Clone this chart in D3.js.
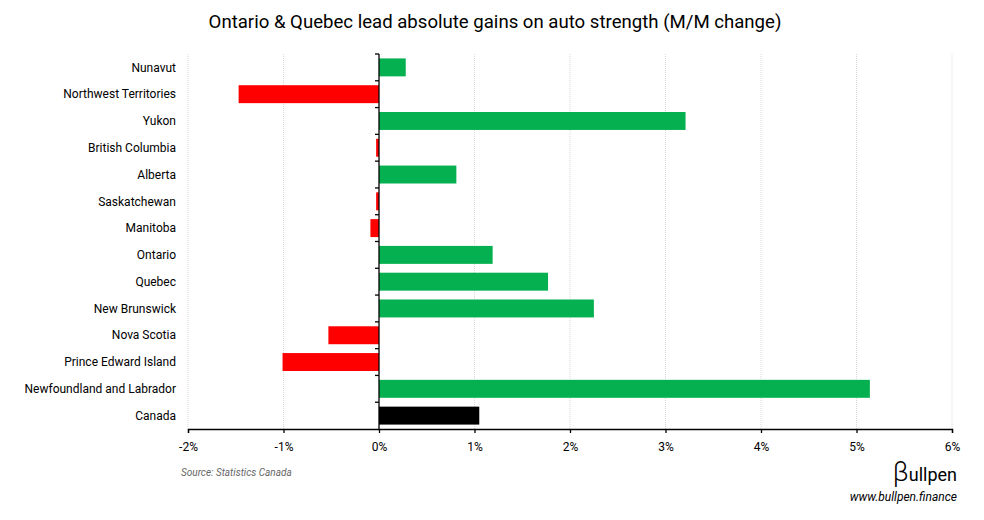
<!DOCTYPE html>
<html>
<head>
<meta charset="utf-8">
<script src="https://cdn.jsdelivr.net/npm/d3@7"></script>
<style>
  body { margin: 0; background: #fff; }
  svg { font-family: Roboto, sans-serif; }
</style>
</head>
<body>
<svg width="984" height="520"></svg>
<script>
const regions = ['Nunavut', 'Northwest Territories', 'Yukon', 'British Columbia', 'Alberta',
    'Saskatchewan', 'Manitoba', 'Ontario', 'Quebec', 'New Brunswick', 'Nova Scotia',
    'Prince Edward Island', 'Newfoundland and Labrador', 'Canada'];
const changes = [0.28, -1.47, 3.21, -0.03, 0.81, -0.03, -0.09, 1.19, 1.77, 2.25, -0.53, -1.01, 5.14, 1.05];
const xTicks = [-2, -1, 0, 1, 2, 3, 4, 5, 6];

const data = regions.map((r, i) => ({ region: r, value: changes[i] }));

const svg = d3.select('svg');
const width = 984;
const margin = { top: 54, right: 32, bottom: 91, left: 188 };
const innerWidth = width - margin.left - margin.right;
const innerHeight = 520 - margin.top - margin.bottom;

const xScale = d3.scaleLinear().domain([-2, 6]).range([0, innerWidth]);
const yScale = d3.scaleBand().domain(regions).range([0, innerHeight]).paddingInner(0.33).paddingOuter(0.165);

const g = svg.append('g').attr('transform', `translate(${margin.left},${margin.top})`);

// dotted gridlines
g.selectAll('.grid').data(xTicks.filter(t => t !== 0)).enter().append('line')
    .attr('x1', d => xScale(d)).attr('x2', d => xScale(d))
    .attr('y1', 0).attr('y2', innerHeight)
    .attr('stroke', '#d9d9d9').attr('stroke-width', 1).attr('stroke-dasharray', '1,1');

const colorFor = d => d.region === 'Canada' ? '#000000' : (d.value < 0 ? '#ff0000' : '#05b050');

g.selectAll('.bar').data(data).enter().append('rect')
    .attr('x', d => xScale(Math.min(0, d.value)))
    .attr('width', d => Math.abs(xScale(d.value) - xScale(0)))
    .attr('y', d => yScale(d.region))
    .attr('height', yScale.bandwidth())
    .attr('fill', colorFor);

// x axis
const xAxis = d3.axisBottom(xScale).tickValues(xTicks).tickSize(4).tickPadding(9)
    .tickFormat(d => d + '%');
const xAxisG = g.append('g').attr('transform', `translate(0,${innerHeight})`).call(xAxis)
    .attr('font-family', null);
xAxisG.selectAll('text').attr('font-size', 12).attr('fill', '#000');
xAxisG.selectAll('line, path').attr('stroke', '#000').attr('stroke-width', 1.3);

// y axis at zero with tick marks on category boundaries
const zeroG = g.append('g').attr('transform', `translate(${xScale(0)},0)`);
zeroG.append('line').attr('y1', 0).attr('y2', innerHeight).attr('stroke', '#000').attr('stroke-width', 1.3);
const boundaries = d3.range(regions.length).map(i => i * innerHeight / regions.length);
zeroG.selectAll('.tk').data(boundaries).enter().append('line')
    .attr('x1', -4).attr('x2', 0).attr('y1', d => d).attr('y2', d => d)
    .attr('stroke', '#000').attr('stroke-width', 1.3);

// category labels
g.selectAll('.lbl').data(regions).enter().append('text')
    .attr('x', -12)
    .attr('y', d => yScale(d) + yScale.bandwidth() / 2)
    .attr('dy', '0.35em')
    .attr('text-anchor', 'end')
    .attr('font-size', 12)
    .attr('fill', '#000')
    .text(d => d);

// title
svg.append('text')
    .attr('x', 495).attr('y', 28)
    .attr('text-anchor', 'middle')
    .attr('font-size', 18.6)
    .attr('fill', '#000')
    .text('Ontario & Quebec lead absolute gains on auto strength (M/M change)');

// source
svg.append('text')
    .attr('x', 181).attr('y', 476)
    .attr('font-size', 10).attr('font-style', 'italic')
    .attr('fill', '#666')
    .text('Source: Statistics Canada');

// logo
svg.append('text')
    .attr('x', 957).attr('y', 481)
    .attr('text-anchor', 'end')
    .attr('font-size', 18)
    .attr('fill', '#000')
    .html('<tspan font-size="27" font-weight="300">β</tspan>ullpen');

svg.append('text')
    .attr('x', 957).attr('y', 501)
    .attr('text-anchor', 'end')
    .attr('font-size', 12).attr('font-style', 'italic')
    .attr('fill', '#000')
    .text('www.bullpen.finance');
</script>
</body>
</html>
